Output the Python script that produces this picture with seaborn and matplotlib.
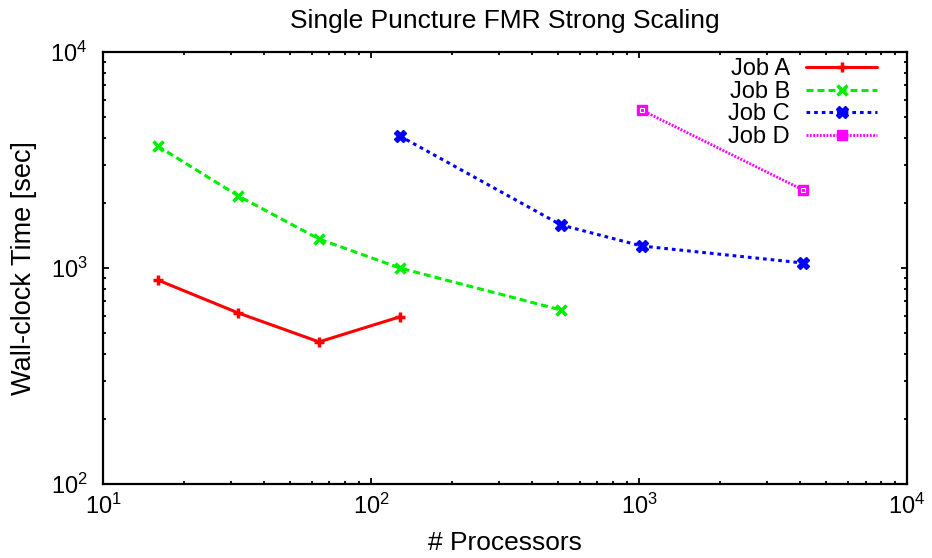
import pandas as pd
import seaborn as sns
import matplotlib.pyplot as plt

jobs = ['Job A', 'Job B', 'Job C', 'Job D']
procs_a = [16, 32, 64, 128]
time_a = [880, 619, 455, 594]
procs_b = [16, 32, 64, 128, 512]
time_b = [3670, 2155, 1362, 1000, 639]
procs_c = [128, 512, 1024, 4096]
time_c = [4085, 1582, 1264, 1055]
procs_d = [1024, 4096]
time_d = [5380, 2297]

colors = ['#ff0000', '#00ee00', '#0000ff', '#ff00ff']

df = pd.concat([
    pd.DataFrame({'procs': procs_a, 'time': time_a, 'job': 'Job A'}),
    pd.DataFrame({'procs': procs_b, 'time': time_b, 'job': 'Job B'}),
    pd.DataFrame({'procs': procs_c, 'time': time_c, 'job': 'Job C'}),
    pd.DataFrame({'procs': procs_d, 'time': time_d, 'job': 'Job D'}),
])

sns.set_style('ticks')
plt.rcParams['font.family'] = ['Liberation Sans', 'DejaVu Sans']
plt.rcParams['text.color'] = 'black'
plt.rcParams['axes.labelcolor'] = 'black'
plt.rcParams['xtick.color'] = 'black'
plt.rcParams['ytick.color'] = 'black'

fig = plt.figure(figsize=(9.32, 5.58), dpi=100)
ax = fig.add_axes([0.1105, 0.1326, 0.8627, 0.7742])

# gnuplot-like line/marker styles
styles = {
    'Job A': dict(ls='-', lw=2.2, marker='+', ms=7, mew=2.5),
    'Job B': dict(ls=(0, (2.3, 1.3)), lw=2.2, marker='x', ms=7, mew=2.5),
    'Job C': dict(ls=(0, (1.2, 1.3)), lw=2.2, marker='X', ms=9, mew=1),
    'Job D': dict(ls=(0, (0.7, 0.5)), lw=2.0, marker='s', ms=7, mew=1,
                  mfc='#ff00ff'),
}
for job, c in zip(jobs, colors):
    sub = df[df['job'] == job]
    sns.lineplot(data=sub, x='procs', y='time', color=c, label=job,
                 mec=c, ax=ax, **styles[job])

# small white inner box of gnuplot's box marker
dsub = df[df['job'] == 'Job D']
ax.plot(dsub['procs'], dsub['time'], ls='none', marker='s', ms=3,
        mfc='none', mec='white', mew=0.8)

ax.set_xscale('log')
ax.set_yscale('log')
ax.set_xlim(10, 1e4)
ax.set_ylim(100, 1e4)
ax.tick_params(which='both', direction='in', top=True, right=True,
               labelsize=17, width=1.3, color='black', labelcolor='black')
ax.tick_params(which='major', length=4)
ax.tick_params(which='minor', length=2.2)
ax.tick_params(axis='y', pad=11)
ax.tick_params(axis='x', pad=7)
for s in ax.spines.values():
    s.set_color('black')
    s.set_linewidth(1.6)

ax.set_title('Single Puncture FMR Strong Scaling', fontsize=19, pad=17,
             color='black')
ax.set_xlabel('# Processors', fontsize=19, labelpad=9)
ax.set_ylabel('Wall-clock Time [sec]', fontsize=19.5, labelpad=10)

leg = ax.legend(loc='upper right', bbox_to_anchor=(0.963, 0.985),
                frameon=False, markerfirst=False, fontsize=17,
                handlelength=3.0, handletextpad=0.7, labelspacing=0.02,
                borderaxespad=0, borderpad=0)
for t in leg.get_texts():
    t.set_color('black')
plt.savefig('out.png', dpi=100)
